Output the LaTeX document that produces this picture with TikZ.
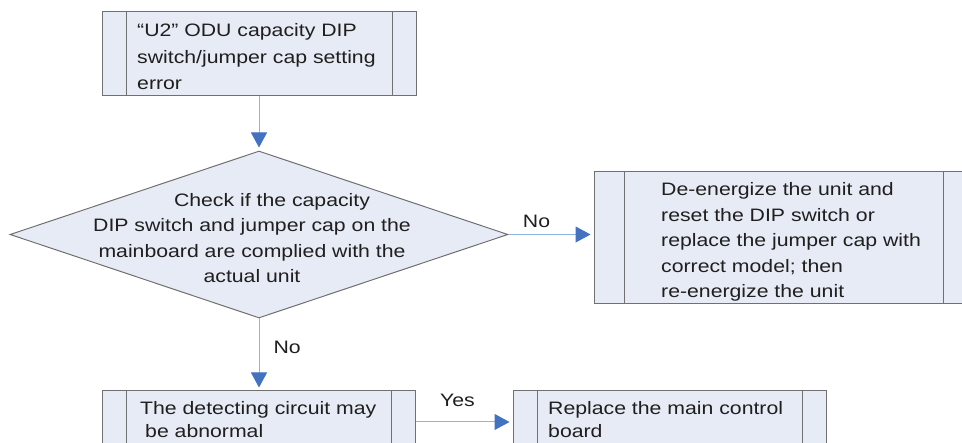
\documentclass[tikz,border=0pt]{standalone}
\usepackage{fontspec}
\setmainfont{Liberation Sans}[FakeStretch=1.18]
\usetikzlibrary{arrows.meta,shapes.geometric,positioning}
\definecolor{boxfill}{RGB}{231,235,245}
\definecolor{boxline}{RGB}{112,112,112}
\definecolor{linkblue}{RGB}{142,180,227}
\definecolor{headblue}{RGB}{66,114,192}

\begin{document}
\begin{tikzpicture}[x=1pt,y=-1pt,every node/.style={font=\fontsize{18}{25.5}\selectfont,text=black!88}]
\tikzset{proc/.style={rectangle,draw=boxline,fill=boxfill,line width=1pt,inner sep=0pt,
    path picture={\draw[boxline,line width=1pt] ([xshift=#1]path picture bounding box.north west)--([xshift=#1]path picture bounding box.south west)
      ([xshift=-#1]path picture bounding box.north east)--([xshift=-#1]path picture bounding box.south east);}},
  proc/.default=24pt,
  dec/.style={diamond,draw=boxline,fill=boxfill,line width=1pt,inner sep=0pt},
  txt/.style={inner sep=0pt,align=left,anchor=base west},
  lab/.style={inner sep=0pt},
  flow/.style={draw=linkblue,line width=1pt,shorten >=3pt,-{Triangle[length=15pt,width=16pt,color=headblue]}}}
\useasboundingbox (0,0) rectangle (962,443);
\clip (0,0) rectangle (962,443);
% boxes (text anchored on the baseline of its last line)
\node[proc,minimum width=314pt,minimum height=84pt] (err) at (259,54) {};
\node[txt,font=\fontsize{18}{26.5}\selectfont] (errtxt) at (137,90) {“U2” ODU capacity DIP\\switch/jumper cap setting\\error};
\node[dec,minimum width=498pt,minimum height=167pt] (chk) at (259,234.5) {};
\node[lab,align=center,anchor=base] (chktxt) at (252,283) {\hspace*{40pt}Check if the capacity\\DIP switch and jumper cap on the\\mainboard are complied with the\\actual unit};
\node[proc=30pt,minimum width=379pt,minimum height=132pt] (fix) at (783.5,238) {};
\node[txt] (fixtxt) at (661,298) {De-energize the unit and\\reset the DIP switch or\\replace the jumper cap with\\correct model; then\\re-energize the unit};
\node[proc,minimum width=313pt,minimum height=62pt] (det) at (259,422) {};
\node[txt,font=\fontsize{18}{23.5}\selectfont] (dettxt) at (140,438) {The detecting circuit may\\\hspace*{5pt}be abnormal};
\node[proc,minimum width=313pt,minimum height=62pt] (rep) at (669.5,422) {};
\node[txt,font=\fontsize{18}{23.5}\selectfont] (reptxt) at (548,438) {Replace the main control\\board};
% connectors
\draw[flow] (err) -- (chk);
\draw[flow] (chk) -- (chk -| fix.west) node[lab,pos=.33,above=6pt] (no1) {No};
\draw[flow] (chk) -- (det) node[lab,pos=.4,right=14pt] (no2) {No};
\draw[flow] (det) -- (rep) node[lab,pos=.43,above=15pt] (yes) {Yes};
\end{tikzpicture}
\end{document}
